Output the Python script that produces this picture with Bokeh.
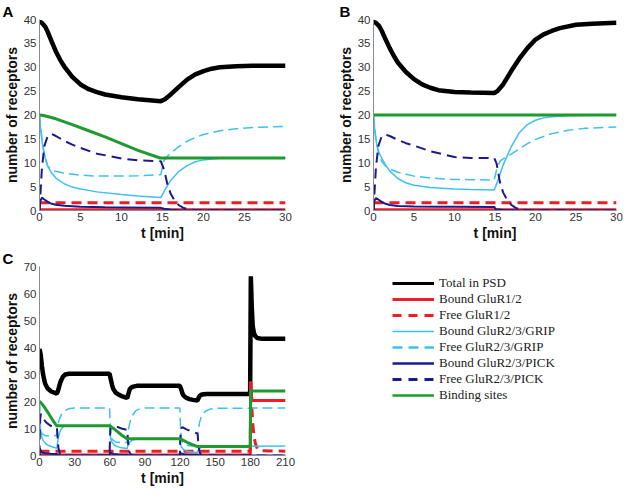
from bokeh.plotting import figure
from bokeh.models import Range1d, FixedTicker, Legend, LegendItem
from bokeh.layouts import column, row
from bokeh.embed import file_html
from bokeh.resources import INLINE

# ---------------- data ----------------
A_xticks = [0, 5, 10, 15, 20, 25, 30]
A_yticks = [0, 5, 10, 15, 20, 25, 30, 35, 40]
C_xticks = [0, 30, 60, 90, 120, 150, 180, 210]
C_yticks = [0, 10, 20, 30, 40, 50, 60, 70]

legend_labels = ["Total in PSD", "Bound GluR1/2", "Free GluR1/2", "Bound GluR2/3/GRIP",
                 "Free GluR2/3/GRIP", "Bound GluR2/3/PICK", "Free GluR2/3/PICK", "Binding sites"]

# Panel A
A_total_t = [0, 0.3, 0.7, 1, 1.5, 2, 2.5, 3, 4, 5, 6, 7, 8, 10, 12, 14.8, 15.3, 16, 17, 18, 19, 20, 21, 22, 24, 26, 30]
A_total_y = [39.5, 39.3, 38.5, 37.4, 35.3, 33.3, 31.6, 30.2, 28.0, 26.4, 25.4, 24.8, 24.3, 23.7, 23.3, 22.9, 23.3, 24.3, 25.9, 27.4, 28.5, 29.2, 29.7, 30.0, 30.2, 30.3, 30.3]
A_r_bound_t = [0, 30]
A_r_bound_y = [0.15, 0.15]
A_r_free_t = [0, 30]
A_r_free_y = [1.6, 1.6]
A_g_bound_t = [0, 0.2, 0.4, 0.7, 1, 1.5, 2, 3, 4, 5, 7, 10, 12, 14.8, 15.3, 16, 17, 18, 19, 20, 21, 22, 24, 30]
A_g_bound_y = [20, 16, 13.5, 11, 9.3, 7.8, 6.8, 5.6, 4.9, 4.5, 3.9, 3.35, 3.05, 2.7, 4.3, 6.3, 8.2, 9.4, 10.2, 10.6, 10.8, 10.95, 11, 11]
A_g_free_t = [0, 0.3, 0.6, 1, 1.5, 2, 3, 5, 7, 10, 12, 14.8, 15.1, 15.5, 16, 17, 18, 19, 20, 22, 24, 26, 30]
A_g_free_y = [20, 15, 11.5, 9.3, 8.5, 8.2, 7.8, 7.4, 7.2, 7.2, 7.3, 7.5, 10.2, 11.2, 12.0, 13.4, 14.5, 15.3, 15.9, 16.7, 17.1, 17.4, 17.6]
A_p_bound_t = [0, 0.1, 0.3, 0.6, 1, 1.5, 2, 3, 5, 8, 10, 14.8, 15.2, 16, 17, 18, 30]
A_p_bound_y = [0, 2.0, 2.7, 2.3, 1.8, 1.4, 1.2, 1.0, 0.8, 0.7, 0.65, 0.55, 0.35, 0.15, 0.05, 0, 0]
A_p_free_t = [0, 0.1, 0.3, 0.6, 1, 1.5, 2, 3, 4, 5, 7, 10, 12, 14.8, 15.2, 15.6, 16, 16.5, 17, 17.5, 18, 19, 30]
A_p_free_y = [0, 3, 9, 13.5, 15.6, 16.0, 15.6, 14.6, 13.8, 13.1, 11.9, 10.9, 10.5, 10.3, 8.5, 5.5, 3.5, 2.0, 1.1, 0.6, 0.3, 0.05, 0]
A_sites_t = [0, 0.5, 2, 4, 6, 8, 10, 12, 14.7, 30]
A_sites_y = [20, 19.9, 19.2, 18.0, 16.7, 15.4, 14.0, 12.6, 11.0, 11.0]

# Panel B
B_total_t = [0, 0.3, 0.7, 1, 1.5, 2, 2.5, 3, 4, 5, 6, 7, 8, 10, 12, 14.9, 15.3, 16, 17, 18, 19, 20, 21, 22, 23, 25, 27, 30]
B_total_y = [39.5, 39.3, 38.6, 37.7, 35.8, 34.0, 32.4, 31.0, 29.0, 27.5, 26.4, 25.7, 25.2, 24.8, 24.7, 24.6, 25.0, 26.4, 29.2, 31.8, 34.0, 35.8, 36.9, 37.6, 38.2, 38.9, 39.1, 39.3]
B_r_bound_t = [0, 30]
B_r_bound_y = [0.15, 0.15]
B_r_free_t = [0, 30]
B_r_free_y = [1.6, 1.6]
B_g_bound_t = [0, 0.2, 0.4, 0.7, 1, 1.5, 2, 3, 4, 5, 7, 10, 12, 14.9, 15.3, 16, 17, 18, 19, 20, 21, 22, 24, 27, 30]
B_g_bound_y = [20, 16, 13.8, 12, 11, 9.5, 8.3, 6.7, 5.8, 5.3, 4.8, 4.5, 4.4, 4.3, 6.0, 9.5, 13.3, 16.3, 18.0, 18.9, 19.4, 19.65, 19.85, 19.95, 20]
B_g_free_t = [0, 0.3, 0.6, 1, 1.5, 2, 3, 5, 7, 10, 12, 14.9, 15.2, 15.6, 16, 17, 18, 19, 20, 22, 24, 26, 30]
B_g_free_y = [20, 15, 12, 10.3, 9.3, 8.7, 8.0, 7.2, 6.8, 6.5, 6.45, 6.4, 8.5, 10.3, 10.8, 11.8, 12.9, 14.0, 14.9, 16.1, 16.8, 17.2, 17.5]
B_p_bound_t = [0, 0.1, 0.3, 0.6, 1, 1.5, 2, 3, 5, 8, 10, 14.9, 15.1, 16, 17, 18, 30]
B_p_bound_y = [0, 2.0, 2.6, 2.3, 1.8, 1.4, 1.15, 0.95, 0.85, 0.8, 0.8, 0.75, 0.25, 0.1, 0.05, 0, 0]
B_p_free_t = [0, 0.1, 0.3, 0.6, 1, 1.5, 2, 3, 4, 5, 7, 10, 12, 14.9, 15.2, 15.6, 16, 16.5, 17, 17.5, 18, 19, 30]
B_p_free_y = [0, 3, 9, 13.5, 15.5, 15.9, 15.6, 14.8, 14.1, 13.6, 12.4, 11.2, 11.0, 11.0, 9.8, 6.0, 3.8, 2.2, 1.2, 0.6, 0.3, 0.05, 0]
B_sites_t = [0, 30]
B_sites_y = [20, 20]

# Panel C
C_total_t = [0, 1, 2, 3, 4, 5, 7, 10, 14.8, 16, 17, 18, 20, 22, 25, 30, 59.8, 61, 62, 63, 65, 67, 70, 74.8, 76, 77, 78, 80, 83,
             119.8, 121, 122, 123, 125, 128, 131, 134.8, 136, 137, 138, 140, 143, 179.8, 180.4, 181.2, 182, 183, 184, 186, 190, 210]
C_total_y = [39.5, 37.4, 33.3, 30.2, 28.0, 26.4, 24.8, 23.7, 22.9, 24.3, 25.9, 27.4, 29.2, 30.0, 30.3, 30.3, 30.3, 28.0, 26.0, 24.6, 23.3, 22.7, 22.0, 21.3, 23.0, 24.5, 25.1, 25.5, 25.8,
             25.8, 24.5, 23.0, 22.2, 21.4, 20.9, 20.6, 20.4, 21.5, 22.2, 22.5, 22.7, 22.8, 22.8, 66.4, 55.0, 48.0, 45.5, 44.3, 43.5, 43.2, 43.2]
C_r_bound_t = [0, 179.9, 180.2, 180.7, 181.3, 210]
C_r_bound_y = [0.15, 0.15, 27.5, 24.0, 20.4, 20.4]
C_r_free_t = [0, 179.9, 180.4, 181, 182, 183, 184, 185, 186, 188, 210]
C_r_free_y = [1.6, 1.6, 27.0, 20.0, 12.0, 7.5, 5.0, 3.5, 2.5, 1.8, 1.6]
C_g_bound_t = [0, 0.2, 0.4, 0.7, 1, 1.5, 2, 3, 5, 7, 10, 14.8, 15.3, 16, 17, 18, 20, 22, 24,
               59.8, 60.3, 61, 62, 64, 67, 70, 74.8, 75.5, 77, 79, 82,
               119.8, 120.3, 121, 123, 126, 130, 134.8, 135.5, 137, 140, 210]
C_g_bound_y = [20, 16, 13.5, 11, 9.3, 7.8, 6.8, 5.6, 4.5, 3.9, 3.35, 2.7, 4.3, 6.3, 8.2, 9.4, 10.6, 10.95, 11,
               11, 8.0, 6.0, 4.8, 3.8, 3.2, 2.9, 2.6, 3.8, 4.9, 5.6, 6.1,
               6.2, 4.5, 3.2, 2.2, 1.6, 1.3, 1.1, 1.9, 2.7, 3.4, 3.5]
C_g_free_t = [0, 0.3, 0.6, 1, 1.5, 2, 3, 5, 7, 10, 14.8, 15.1, 15.5, 16, 17, 18, 19, 20, 22, 24, 26, 30,
              59.8, 60.3, 61, 62, 65, 70, 74.8, 75.1, 75.6, 76.5, 78, 80, 82, 85, 90,
              119.8, 120.3, 121, 122, 125, 130, 134.8, 135.1, 135.6, 136.5, 138, 140, 142, 145, 150, 210]
C_g_free_y = [20, 15, 11.5, 9.3, 8.5, 8.2, 7.8, 7.4, 7.2, 7.2, 7.5, 10.2, 11.2, 12.0, 13.4, 14.5, 15.3, 15.9, 16.7, 17.1, 17.4, 17.6,
              17.6, 12.0, 8.0, 6.0, 5.0, 4.8, 4.8, 7.5, 9.0, 11.0, 13.5, 15.3, 16.5, 17.2, 17.6,
              17.6, 11.0, 7.0, 5.0, 3.8, 3.5, 3.5, 7.0, 9.5, 12.0, 14.2, 15.6, 16.5, 17.1, 17.5, 17.6]
C_p_bound_t = [0, 0.1, 0.3, 0.6, 1, 1.5, 2, 3, 5, 8, 10, 14.8, 15.2, 16, 17, 18,
               59.8, 60.2, 61, 63, 67, 74.8, 75.5, 77, 119.8, 120.2, 121, 123, 127, 134.8, 135.5, 137, 210]
C_p_bound_y = [0, 2.0, 2.7, 2.3, 1.8, 1.4, 1.2, 1.0, 0.8, 0.7, 0.65, 0.55, 0.35, 0.15, 0.05, 0,
               0, 1.3, 1.0, 0.6, 0.4, 0.3, 0.1, 0, 0, 1.0, 0.8, 0.5, 0.3, 0.25, 0.1, 0, 0]
C_p_free_t = [0, 0.1, 0.3, 0.6, 1, 1.5, 2, 3, 5, 7, 10, 14.8, 15.2, 15.6, 16, 16.5, 17, 18, 19,
              59.8, 60.1, 60.4, 61, 62, 65, 70, 74.8, 75.2, 75.6, 76, 76.5, 77, 78, 79,
              119.8, 120.1, 120.4, 121, 122, 125, 130, 134.8, 135.2, 135.6, 136, 136.5, 137, 138, 139, 210]
C_p_free_y = [0, 3, 9, 13.5, 15.0, 15.3, 15.0, 14.0, 12.6, 11.8, 10.9, 10.3, 8.5, 5.5, 3.5, 2.0, 1.1, 0.3, 0,
              0, 5, 9, 11, 11.2, 10.8, 10.0, 9.5, 7.8, 5.0, 3.2, 1.8, 1.0, 0.3, 0,
              0, 4.5, 8, 10, 10.5, 9.8, 8.8, 8.2, 6.8, 4.3, 2.8, 1.6, 0.9, 0.3, 0, 0]
C_sites_t = [0, 0.5, 2, 4, 6, 8, 10, 12, 14.7, 60, 62, 66, 70, 74.7, 120, 122, 126, 130, 134.7, 180, 180.2, 210]
C_sites_y = [20, 19.9, 19.2, 18.0, 16.7, 15.4, 14.0, 12.6, 11.0, 11.0, 10.4, 9.0, 7.6, 6.2, 6.2, 5.8, 4.9, 4.1, 3.3, 3.3, 23.9, 23.9]

# ---------------- styles ----------------
BLACK, RED, CYAN, NAVY, GREEN = "#000000", "#ee1c24", "#3ec1ee", "#1a1a8c", "#1f9a2f"
STYLES = [  # (color, width, dash) in legend order
    (BLACK, 4.5, "solid"),
    (RED, 3, "solid"),
    (RED, 3, "10 6"),
    (CYAN, 1.5, "solid"),
    (CYAN, 1.5, "10 5"),
    (NAVY, 2, "solid"),
    (NAVY, 2, "10 6"),
    (GREEN, 3, "solid"),
]
LEG_STYLES = [
    (BLACK, 3, "solid"),
    (RED, 3, "solid"),
    (RED, 3, "9 7"),
    (CYAN, 1.5, "solid"),
    (CYAN, 2.5, "10 6"),
    (NAVY, 2.5, "solid"),
    (NAVY, 3, "9 7"),
    (GREEN, 2.5, "solid"),
]

FONT = "Liberation Sans"


def make_panel(width, height, bl, br, bt, bb, xmax, ymax, xticks, yticks, series, letter, letter_off):
    p = figure(width=width, height=height, x_range=Range1d(0, xmax), y_range=Range1d(0, ymax),
               output_backend="svg", toolbar_location=None,
               min_border_left=bl, min_border_right=br, min_border_top=bt, min_border_bottom=bb)
    p.xgrid.visible = False
    p.ygrid.visible = False
    p.outline_line_color = None
    p.background_fill_color = "white"
    p.border_fill_color = "white"
    p.xaxis.ticker = FixedTicker(ticks=xticks)
    p.yaxis.ticker = FixedTicker(ticks=yticks)
    for ax in (p.xaxis[0], p.yaxis[0]):
        ax.major_tick_in = 0
        ax.major_tick_out = 0
        ax.minor_tick_in = 0
        ax.minor_tick_out = 0
        ax.axis_line_color = "#8c8c8c"
        ax.axis_line_width = 1
        ax.major_label_text_font = FONT
        ax.major_label_text_font_size = "11.5px"
        ax.major_label_text_color = "#333333"
        ax.axis_label_text_font = FONT
        ax.axis_label_text_font_style = "bold"
        ax.axis_label_text_font_size = "14px"
        ax.axis_label_text_color = "#111111"
        ax.major_label_standoff = 3
        ax.axis_label_standoff = 1
    p.xaxis[0].major_label_standoff = 2
    p.xaxis.axis_label = "t [min]"
    p.yaxis.axis_label = "number of receptors"
    for (t, y), (c, w, d) in zip(series, STYLES):
        p.line(t, y, line_color=c, line_width=w, line_dash=d)
    # panel letter as a left-aligned title shifted left of the frame
    p.title.text = letter
    p.title.text_font = FONT
    p.title.text_font_style = "bold"
    p.title.text_font_size = "15px"
    p.title.text_color = "#000000"
    p.title.align = "left"
    p.title.offset = letter_off
    p.title.standoff = 0
    return p


seriesA = [(A_total_t, A_total_y), (A_r_bound_t, A_r_bound_y), (A_r_free_t, A_r_free_y),
           (A_g_bound_t, A_g_bound_y), (A_g_free_t, A_g_free_y), (A_p_bound_t, A_p_bound_y),
           (A_p_free_t, A_p_free_y), (A_sites_t, A_sites_y)]
seriesB = [(B_total_t, B_total_y), (B_r_bound_t, B_r_bound_y), (B_r_free_t, B_r_free_y),
           (B_g_bound_t, B_g_bound_y), (B_g_free_t, B_g_free_y), (B_p_bound_t, B_p_bound_y),
           (B_p_free_t, B_p_free_y), (B_sites_t, B_sites_y)]
seriesC = [(C_total_t, C_total_y), (C_r_bound_t, C_r_bound_y), (C_r_free_t, C_r_free_y),
           (C_g_bound_t, C_g_bound_y), (C_g_free_t, C_g_free_y), (C_p_bound_t, C_p_bound_y),
           (C_p_free_t, C_p_free_y), (C_sites_t, C_sites_y)]

pA = make_panel(312, 246, 36, 27, 8, 36, 30, 40, A_xticks, A_yticks, seriesA, "A", -37)
pB = make_panel(312, 246, 61, 8, 8, 36, 30, 40, A_xticks, A_yticks, seriesB, "B", -34)
pC = make_panel(312, 242, 36, 27, 20, 32, 210, 70, C_xticks, C_yticks, seriesC, "C", -37)

# legend panel
pL = figure(width=312, height=242, x_range=Range1d(0, 1), y_range=Range1d(0, 1),
            x_axis_type=None, y_axis_type=None, output_backend="svg", toolbar_location=None,
            min_border_left=0, min_border_right=0, min_border_top=0, min_border_bottom=0)
pL.grid.visible = False
pL.outline_line_color = None
items = []
for lab, (c, w, d) in zip(legend_labels, LEG_STYLES):
    r = pL.line(x=[-5, -4], y=[-5, -4], line_color=c, line_width=w, line_dash=d)
    items.append(LegendItem(label=lab, renderers=[r]))
leg = Legend(items=items, location=(80, 52), padding=0, margin=0, spacing=0,
             glyph_width=42, glyph_height=16, label_height=16, label_standoff=5,
             label_text_font="Liberation Serif", label_text_font_size="13px",
             label_text_color="#222222", border_line_alpha=0, background_fill_alpha=0)
pL.add_layout(leg)

layout = column(row(pA, pB), row(pC, pL))
open("out.html", "w").write(file_html(layout, INLINE))
